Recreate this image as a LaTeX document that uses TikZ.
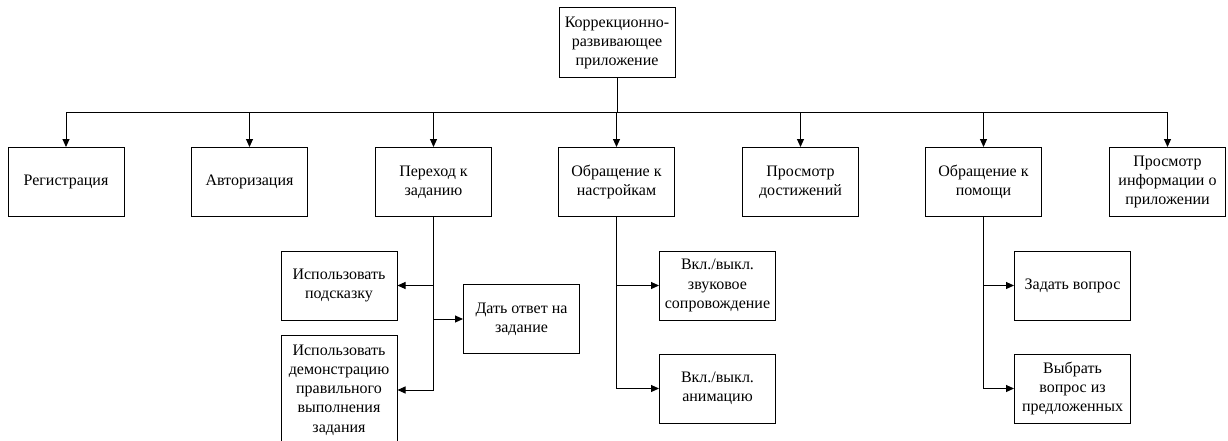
\documentclass[tikz,border=0pt]{standalone}
\usepackage{fontspec}
\setmainfont{Liberation Serif}
\usetikzlibrary{arrows.meta}

\begin{document}
\begin{tikzpicture}[x=1pt,y=-1pt,
  box/.style={draw, line width=1pt, minimum width=116pt, minimum height=69pt,
    align=center, inner sep=2pt, font=\fontsize{16}{19.3}\selectfont},
  link/.style={line width=1pt},
  arr/.style={line width=1pt, -{Triangle[length=8pt,width=7pt]}}]
\useasboundingbox (0,0) rectangle (1228,441);

% root
\node[box, minimum height=70pt] (root) at (617,43) {Коррекционно-\\развивающее\\приложение};

% first level
\node[box] (reg)  at (66,182)    {Регистрация};
\node[box] (auth) at (249.5,182) {Авторизация};
\node[box] (task) at (433.5,182) {Переход к\\заданию};
\node[box] (sett) at (616.5,182) {Обращение к\\настройкам};
\node[box] (ach)  at (800.5,182) {Просмотр\\достижений};
\node[box] (help) at (983.5,182) {Обращение к\\помощи};
\node[box] (info) at (1167.5,182){Просмотр\\информации о\\приложении};

% second level
\node[box] (hint)   at (339,285.5)   {Использовать\\подсказку};
\node[box] (answer) at (521.5,319)   {Дать ответ на\\задание};
\node[box, minimum height=110pt] (demo) at (339,390) {Использовать\\демонстрацию\\правильного\\выполнения\\задания};
\node[box] (sound)  at (717.5,285.5) {Вкл./выкл.\\звуковое\\сопровождение};
\node[box] (anim)   at (717.5,388.5) {Вкл./выкл.\\анимацию};
\node[box] (ask)    at (1072.5,285.5){Задать вопрос};
\node[box] (pick)   at (1072.5,388.5){Выбрать\\вопрос из\\предложенных};

% bus from the root to the first level
\coordinate (bus) at (617,113);
\draw[link] (root.south) -- (bus);
\draw[link] (reg.north |- bus) -- (info.north |- bus);
\foreach \n in {reg,auth,task,sett,ach,help,info}
  \draw[arr] (\n.north |- bus) -- (\n.north);

% task branch
\draw[link] (task.south) -- (task.south |- demo.east);
\draw[arr] (task.south |- hint.east) -- (hint.east);
\draw[arr] (task.south |- answer.west) -- (answer.west);
\draw[arr] (task.south |- demo.east) -- (demo.east);

% settings branch
\draw[link] (sett.south) -- (sett.south |- anim.west);
\draw[arr] (sett.south |- sound.west) -- (sound.west);
\draw[arr] (sett.south |- anim.west) -- (anim.west);

% help branch
\draw[link] (help.south) -- (help.south |- pick.west);
\draw[arr] (help.south |- ask.west) -- (ask.west);
\draw[arr] (help.south |- pick.west) -- (pick.west);
\end{tikzpicture}
\end{document}
